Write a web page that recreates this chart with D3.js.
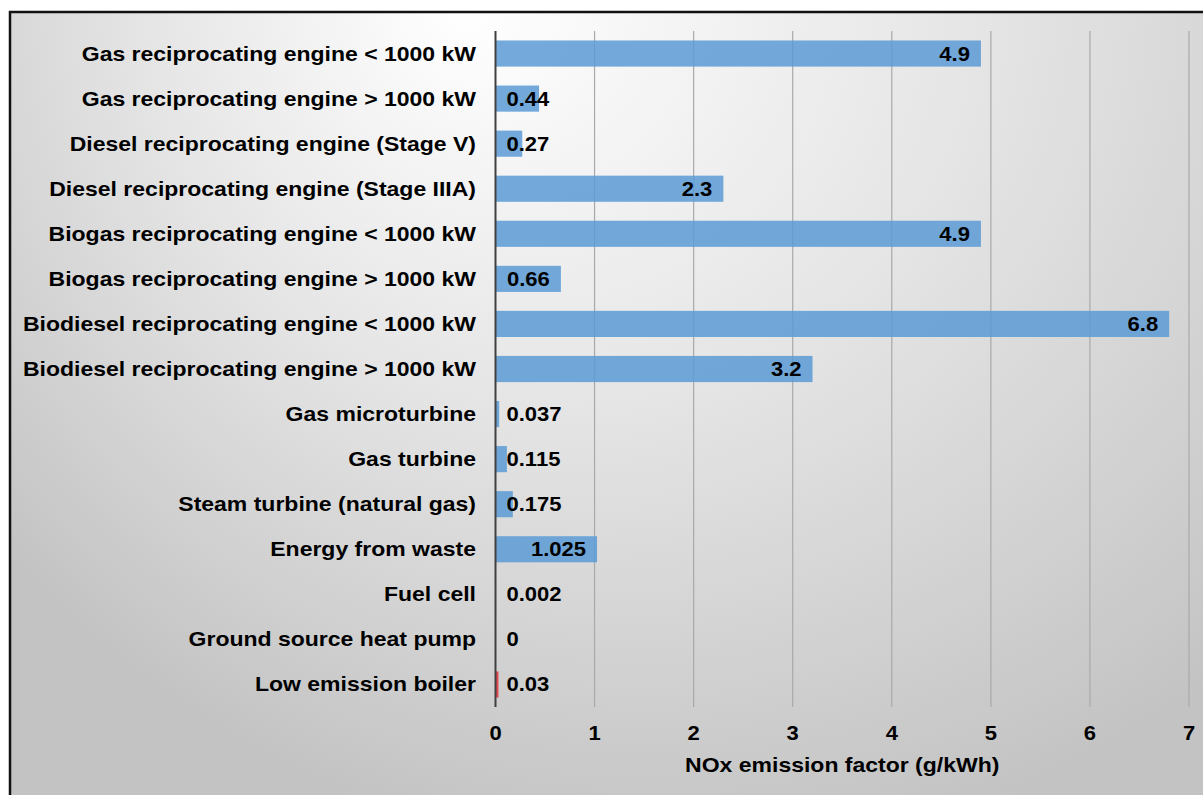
<!DOCTYPE html>
<html>
<head>
<meta charset="utf-8">
<script src="https://cdn.jsdelivr.net/npm/d3@7"></script>
<style>
  html, body { margin: 0; padding: 0; background: #fff; }
  svg text { font-family: "Liberation Sans", Arial, sans-serif; font-weight: bold; fill: #000; }
</style>
</head>
<body>
<div id="chart"></div>
<script>
const categories = [
  'Gas reciprocating engine < 1000 kW',
  'Gas reciprocating engine > 1000 kW',
  'Diesel reciprocating engine (Stage V)',
  'Diesel reciprocating engine (Stage IIIA)',
  'Biogas reciprocating engine < 1000 kW',
  'Biogas reciprocating engine > 1000 kW',
  'Biodiesel reciprocating engine < 1000 kW',
  'Biodiesel reciprocating engine > 1000 kW',
  'Gas microturbine',
  'Gas turbine',
  'Steam turbine (natural gas)',
  'Energy from waste',
  'Fuel cell',
  'Ground source heat pump',
  'Low emission boiler'
]
const noxValues = [4.9, 0.44, 0.27, 2.3, 4.9, 0.66, 6.8, 3.2, 0.037, 0.115, 0.175, 1.025, 0.002, 0, 0.03]
const xTicks = [0, 1, 2, 3, 4, 5, 6, 7]
const axisTitle = 'NOx emission factor (g/kWh)'
const redBars = ['Low emission boiler']

const width = 1203
const height = 795
// text in the picture is drawn a little wide
const stretch = 1.13
const labelStretch = 1.18

const data = categories.map((c, i) => ({ cat: c, value: noxValues[i] }))

const x = d3.scaleLinear().domain([0, 7]).range([495.5, 1189])
const y = d3
  .scaleBand()
  .domain(categories)
  .range([31, 707])
  .paddingInner(0.42)
  .paddingOuter(0.21)

const svg = d3
  .select('#chart')
  .append('svg')
  .attr('width', width)
  .attr('height', height)

// background
const defs = svg.append('defs')
const grad = defs
  .append('radialGradient')
  .attr('id', 'bg')
  .attr('gradientUnits', 'userSpaceOnUse')
  .attr('cx', 680)
  .attr('cy', -40)
  .attr('r', 900)
  .attr('fx', 460)
  .attr('fy', 10)
grad.append('stop').attr('offset', 0).attr('stop-color', '#ffffff')
grad.append('stop').attr('offset', 0.45).attr('stop-color', '#e6e6e6')
grad.append('stop').attr('offset', 1).attr('stop-color', '#c3c3c3')

svg
  .append('rect')
  .attr('x', 10)
  .attr('y', 12)
  .attr('width', width - 10)
  .attr('height', height - 12)
  .attr('fill', 'url(#bg)')

svg
  .append('path')
  .attr('d', `M10,${height} L10,12 L${width},12`)
  .attr('fill', 'none')
  .attr('stroke', '#111')
  .attr('stroke-width', 2.5)

// gridlines
svg
  .append('g')
  .selectAll('line')
  .data(xTicks.filter(t => t > 0))
  .enter()
  .append('line')
  .attr('x1', d => x(d))
  .attr('x2', d => x(d))
  .attr('y1', y.range()[0])
  .attr('y2', y.range()[1])
  .attr('stroke', '#a9a9a9')
  .attr('stroke-width', 1.2)

// bars
svg
  .append('g')
  .selectAll('rect')
  .data(data)
  .enter()
  .append('rect')
  .attr('x', x(0))
  .attr('y', d => y(d.cat))
  .attr('width', d => x(d.value) - x(0))
  .attr('height', y.bandwidth())
  .attr('fill', d => (redBars.includes(d.cat) ? '#e8323a' : '#5b9bd5'))
  .attr('fill-opacity', 0.85)

// zero axis line
svg
  .append('line')
  .attr('x1', x(0))
  .attr('x2', x(0))
  .attr('y1', y.range()[0])
  .attr('y2', y.range()[1])
  .attr('stroke', '#404040')
  .attr('stroke-width', 2)

// category labels
svg
  .append('g')
  .selectAll('text')
  .data(data)
  .enter()
  .append('text')
  .attr('transform', d => `translate(476,${y(d.cat) + y.bandwidth() / 2}) scale(${labelStretch},1)`)
  .attr('dy', '0.36em')
  .attr('text-anchor', 'end')
  .style('font-size', '19.5px')
  .text(d => d.cat)

// value labels: inside end, or at the base when they do not fit
svg
  .append('g')
  .selectAll('text')
  .data(data)
  .enter()
  .append('text')
  .attr('dy', '0.36em')
  .style('font-size', '19.5px')
  .text(d => String(d.value))
  .each(function(d) {
    const w = this.getComputedTextLength() * stretch
    const cy = y(d.cat) + y.bandwidth() / 2
    let left = x(d.value) - 11 - w
    if (left < x(0) + 11) left = x(0) + 11
    d3.select(this).attr('transform', `translate(${left},${cy}) scale(${stretch},1)`)
  })

// x tick labels
svg
  .append('g')
  .selectAll('text')
  .data(xTicks)
  .enter()
  .append('text')
  .attr('transform', d => `translate(${x(d)},740) scale(${stretch},1)`)
  .attr('text-anchor', 'middle')
  .style('font-size', '19.5px')
  .text(d => d)

// axis title
svg
  .append('text')
  .attr('transform', `translate(${(x(0) + x(7)) / 2},772) scale(${labelStretch},1)`)
  .attr('text-anchor', 'middle')
  .style('font-size', '19.5px')
  .text(axisTitle)
</script>
</body>
</html>
